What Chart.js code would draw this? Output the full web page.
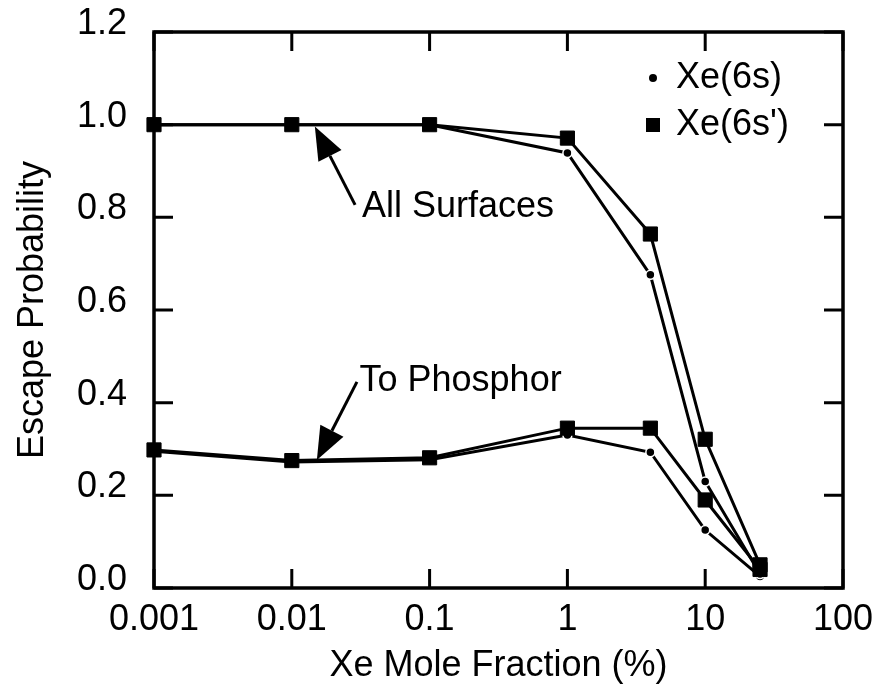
<!DOCTYPE html>
<html>
<head>
<meta charset="utf-8">
<script src="https://cdn.jsdelivr.net/npm/chart.js@4/dist/chart.umd.min.js"></script>
<style>
  html, body { margin: 0; padding: 0; background: #fff; }
  #wrap { width: 882px; height: 688px; }
</style>
</head>
<body>
<div id="wrap"><canvas id="escapeChart" width="882" height="688"></canvas></div>
<script>
// Xe mole fraction (%) where the escape probability was computed
const xeFraction = [0.001, 0.01, 0.1, 1, 4, 10, 25];

// escape to all surfaces
const allSurf6s  = [1.0, 1.0, 1.0, 0.939, 0.676, 0.230, 0.030];
const allSurf6sp = [1.0, 1.0, 1.0, 0.971, 0.764, 0.321, 0.050];

// escape to the phosphor
const phos6s  = [0.295, 0.272, 0.277, 0.330, 0.293, 0.125, 0.025];
const phos6sp = [0.298, 0.275, 0.281, 0.345, 0.345, 0.190, 0.040];

const xTicks = [0.001, 0.01, 0.1, 1, 10, 100];
const xTickLabels = ['0.001', '0.01', '0.1', '1', '10', '100'];
const yTicks = [0, 0.2, 0.4, 0.6, 0.8, 1.0, 1.2];

const seriesNames = ['Xe(6s)', "Xe(6s')"];

const FONT = "'Liberation Sans', Arial, sans-serif";
Chart.defaults.color = '#000';
Chart.defaults.font.family = FONT;

const toPts = (ys) => ys.map((y, i) => ({ x: xeFraction[i], y: y }));

const dotSet = (label, ys) => ({
  label: label,
  data: toPts(ys),
  borderColor: '#000',
  borderWidth: 3,
  pointStyle: 'circle',
  pointRadius: 4.5,
  pointBackgroundColor: '#000',
  pointBorderColor: '#fff',
  pointBorderWidth: 1.5,
  tension: 0,
  clip: false
});
const squareSet = (label, ys) => ({
  label: label,
  data: toPts(ys),
  borderColor: '#000',
  borderWidth: 3,
  pointStyle: 'rect',
  pointRadius: 10,
  pointBackgroundColor: '#000',
  pointBorderColor: '#000',
  pointBorderWidth: 1,
  tension: 0,
  clip: false
});

// annotation arrows, in data coordinates
const notes = [
  { text: 'All Surfaces', tx: 0.0323, ty: 0.823, from: [0.0288, 0.827], to: [0.0147, 0.996] },
  { text: 'To Phosphor', tx: 0.031, ty: 0.447, from: [0.0297, 0.445], to: [0.0152, 0.276] }
];

const framePlugin = {
  id: 'frame',
  beforeDatasetsDraw(chart) {
    const { ctx, chartArea: a, scales } = chart;
    ctx.save();
    ctx.strokeStyle = '#000';
    ctx.lineWidth = 3.5;
    ctx.strokeRect(a.left, a.top, a.right - a.left, a.bottom - a.top);
    ctx.lineWidth = 3;
    const tl = 19;
    ctx.beginPath();
    xTicks.forEach(v => {
      const px = scales.x.getPixelForValue(v);
      ctx.moveTo(px, a.bottom); ctx.lineTo(px, a.bottom - tl);
      ctx.moveTo(px, a.top); ctx.lineTo(px, a.top + tl);
    });
    yTicks.forEach(v => {
      const py = scales.y.getPixelForValue(v);
      ctx.moveTo(a.left, py); ctx.lineTo(a.left + tl, py);
      ctx.moveTo(a.right, py); ctx.lineTo(a.right - tl, py);
    });
    ctx.stroke();
    ctx.restore();
  },
  afterDatasetsDraw(chart) {
    const { ctx, chartArea: a, scales } = chart;
    const X = v => scales.x.getPixelForValue(v);
    const Y = v => scales.y.getPixelForValue(v);
    ctx.save();
    ctx.fillStyle = '#000';
    ctx.strokeStyle = '#000';
    ctx.font = '36px ' + FONT;
    ctx.textBaseline = 'middle';
    notes.forEach(n => {
      const x0 = X(n.from[0]), y0 = Y(n.from[1]);
      const x1 = X(n.to[0]), y1 = Y(n.to[1]);
      const ang = Math.atan2(y1 - y0, x1 - x0);
      const hl = 33, hw = 13;
      const bx = x1 - hl * Math.cos(ang), by = y1 - hl * Math.sin(ang);
      ctx.lineWidth = 3;
      ctx.beginPath();
      ctx.moveTo(x0, y0); ctx.lineTo(bx, by);
      ctx.stroke();
      ctx.beginPath();
      ctx.moveTo(x1, y1);
      ctx.lineTo(bx + hw * Math.sin(ang), by - hw * Math.cos(ang));
      ctx.lineTo(bx - hw * Math.sin(ang), by + hw * Math.cos(ang));
      ctx.closePath();
      ctx.fill();
      ctx.textAlign = 'left';
      ctx.fillText(n.text, X(n.tx), Y(n.ty));
    });

    // legend, top right inside the frame
    const lx = a.right - 190, ly1 = a.top + 46, ly2 = a.top + 93;
    ctx.beginPath();
    ctx.arc(lx, ly1, 4, 0, Math.PI * 2);
    ctx.fill();
    ctx.fillRect(lx - 7, ly2 - 7, 14, 14);
    ctx.fillText(seriesNames[0], lx + 23, ly1);
    ctx.fillText(seriesNames[1], lx + 23, ly2);
    ctx.restore();
  }
};

new Chart(document.getElementById('escapeChart').getContext('2d'), {
  type: 'line',
  data: {
    datasets: [
      squareSet("Xe(6s') all surfaces", allSurf6sp),
      squareSet("Xe(6s') to phosphor", phos6sp),
      dotSet('Xe(6s) all surfaces', allSurf6s),
      dotSet('Xe(6s) to phosphor', phos6s)
    ]
  },
  options: {
    responsive: false,
    animation: false,
    layout: { padding: { top: 32, right: 39, left: 0, bottom: 0 } },
    plugins: { legend: { display: false }, tooltip: { enabled: false } },
    scales: {
      x: {
        type: 'logarithmic',
        min: 0.001,
        max: 100,
        afterBuildTicks: s => { s.ticks = xTicks.map(v => ({ value: v })); },
        afterFit: s => { s.height = 100; s.paddingLeft = 0; s.paddingRight = 0; },
        grid: { display: false, drawTicks: false },
        border: { display: false },
        ticks: {
          font: { size: 36 },
          padding: 10,
          maxRotation: 0,
          autoSkip: false,
          callback: v => xTickLabels[xTicks.indexOf(v)]
        },
        title: {
          display: true,
          text: 'Xe Mole Fraction (%)',
          font: { size: 36 },
          padding: { top: 0, bottom: 0 }
        }
      },
      y: {
        min: 0,
        max: 1.2,
        afterBuildTicks: s => { s.ticks = yTicks.map(v => ({ value: v })); },
        afterFit: s => { s.width = 154; s.paddingTop = 0; s.paddingBottom = 0; },
        grid: { display: false, drawTicks: false },
        border: { display: false },
        ticks: {
          font: { size: 36 },
          padding: 27,
          labelOffset: -8,
          callback: v => v.toFixed(1)
        },
        title: {
          display: true,
          text: 'Escape Probability',
          font: { size: 36 },
          padding: { top: 11, bottom: 0 }
        }
      }
    }
  },
  plugins: [framePlugin]
});
</script>
</body>
</html>
